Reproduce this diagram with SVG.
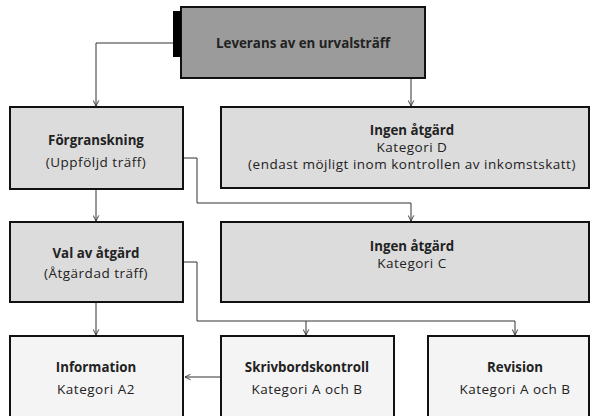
<svg xmlns="http://www.w3.org/2000/svg" width="592" height="416" viewBox="0 0 592 416">
<defs>
<marker id="arr" viewBox="0 0 10 10" refX="9" refY="5" markerWidth="7" markerHeight="7" markerUnits="userSpaceOnUse" orient="auto">
<path d="M1,1 L9,5 L1,9" fill="none" stroke="#333" stroke-width="1.3"/>
</marker>
<style>
.box{stroke:#111;stroke-width:2}
.top{fill:#9b9b9b}
.mid{fill:#dcdcdc}
.bot{fill:#f4f4f4}
.t{font-family:"Open Sans","Noto Sans",sans-serif;font-size:13.5px;letter-spacing:0.5px;fill:#222;text-anchor:middle}
.b{font-weight:bold;font-size:13.3px;letter-spacing:0}
.c{fill:none;stroke:#333;stroke-width:1}
</style>
</defs>
<g id="connectors">
<path class="c" d="M173,43 H96 V106" marker-end="url(#arr)"/>
<path class="c" d="M411,78 V106" marker-end="url(#arr)"/>
<path class="c" d="M96,189 V221" marker-end="url(#arr)"/>
<path class="c" d="M183,158 H197 V203 H411 V221" marker-end="url(#arr)"/>
<path class="c" d="M96,302 V335" marker-end="url(#arr)"/>
<path class="c" d="M183,262 H197 V321 H515 V335" marker-end="url(#arr)"/>
<path class="c" d="M306,321 V335" marker-end="url(#arr)"/>
<path class="c" d="M221,377 H185" marker-end="url(#arr)"/>
</g>
<g id="n-leverans">
<rect class="box top" x="181" y="7" width="244" height="71"/>
<rect x="173" y="11" width="8" height="46" fill="#000"/>
<text class="t b" x="303" y="48">Leverans av en urvalsträff</text>
</g>
<g id="n-forgranskning">
<rect class="box mid" x="10" y="107" width="173" height="82"/>
<text class="t b" x="96" y="145">Förgranskning</text>
<text class="t" x="96" y="167">(Uppföljd träff)</text>
</g>
<g id="n-ingen-d">
<rect class="box mid" x="221" y="107" width="368" height="81"/>
<text class="t b" x="412" y="135">Ingen åtgärd</text>
<text class="t" x="412" y="152">Kategori D</text>
<text class="t" x="412" y="169">(endast möjligt inom kontrollen av inkomstskatt)</text>
</g>
<g id="n-val">
<rect class="box mid" x="10" y="222" width="173" height="80"/>
<text class="t b" x="96" y="258">Val av åtgärd</text>
<text class="t" x="96" y="278">(Åtgärdad träff)</text>
</g>
<g id="n-ingen-c">
<rect class="box mid" x="221" y="222" width="368" height="80"/>
<text class="t b" x="412" y="251">Ingen åtgärd</text>
<text class="t" x="412" y="268">Kategori C</text>
</g>
<g id="n-information">
<rect class="box bot" x="10" y="336" width="173" height="92"/>
<text class="t b" x="96" y="372">Information</text>
<text class="t" x="96" y="394">Kategori A2</text>
</g>
<g id="n-skrivbord">
<rect class="box bot" x="221" y="336" width="173" height="92"/>
<text class="t b" x="307" y="372">Skrivbordskontroll</text>
<text class="t" x="307" y="394">Kategori A och B</text>
</g>
<g id="n-revision">
<rect class="box bot" x="428" y="336" width="161" height="92"/>
<text class="t b" x="515" y="372">Revision</text>
<text class="t" x="515" y="394">Kategori A och B</text>
</g>
</svg>
